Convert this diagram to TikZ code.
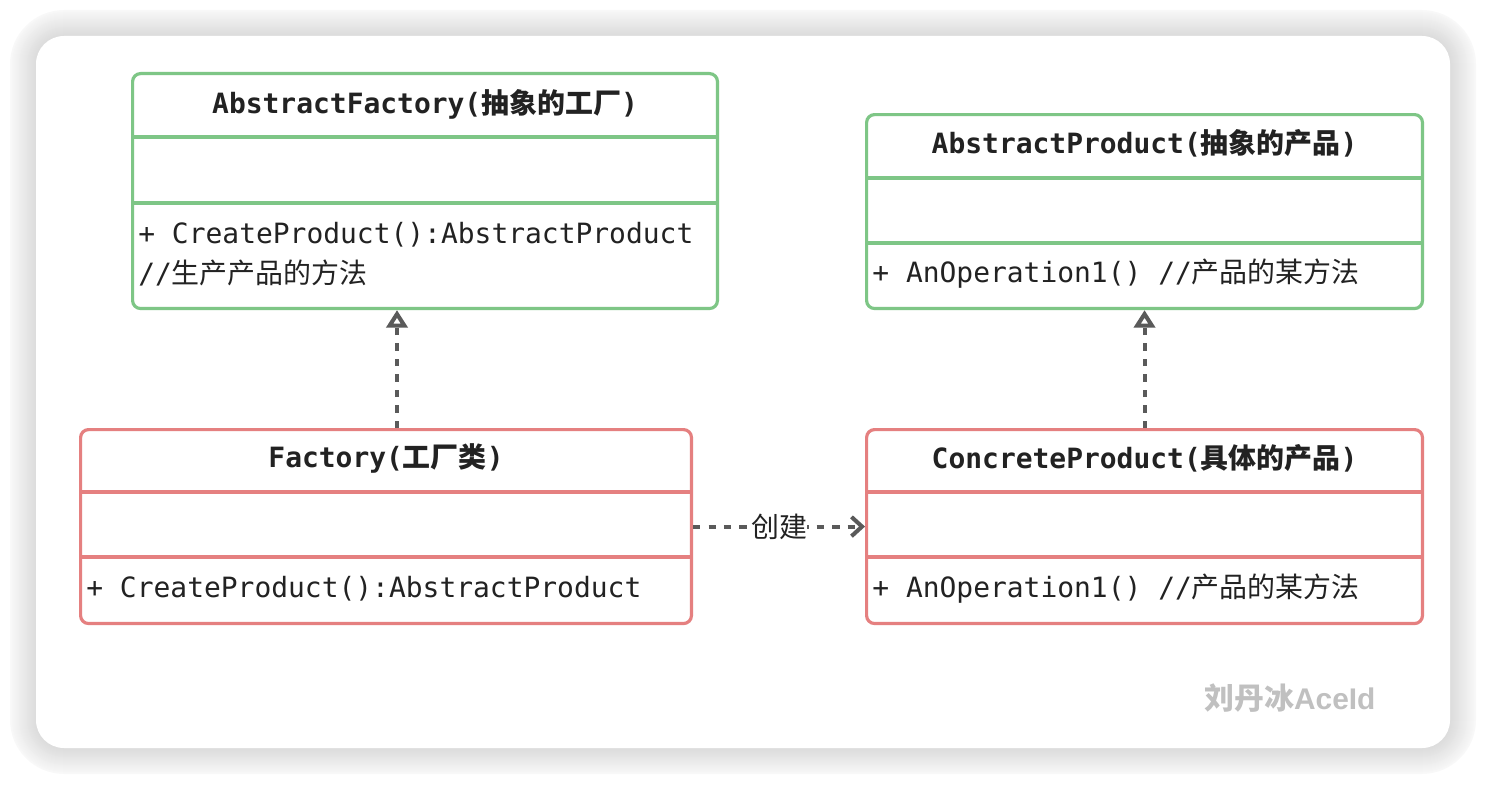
\documentclass[tikz,border=0pt]{standalone}
\usepackage{fontspec}
\setmonofont{DejaVu Sans Mono}
\newfontfamily\zhfont{Noto Sans CJK SC}
\newfontfamily\markfont{Liberation Sans}
\usetikzlibrary{arrows.meta,calc}
\definecolor{umlgreen}{RGB}{126,198,134}
\definecolor{umlred}{RGB}{229,128,128}
\definecolor{linkgray}{RGB}{90,90,90}
\definecolor{textdark}{RGB}{34,34,34}
\definecolor{markgray}{RGB}{192,192,192}
\newcommand{\zh}[1]{{\zhfont #1}}

\begin{document}
\begin{tikzpicture}[x=0.02cm,y=-0.02cm,
  abox/.style={draw=umlgreen,line width=1.8pt,rounded corners=0.16cm,anchor=north west,inner sep=0pt},
  cbox/.style={draw=umlred,line width=1.8pt,rounded corners=0.16cm,anchor=north west,inner sep=0pt},
  title/.style={font=\ttfamily\bfseries\fontsize{15.9}{20}\selectfont,text=textdark,inner sep=0pt},
  member/.style={font=\ttfamily\fontsize{15.9}{22.7}\selectfont,text=textdark,anchor=west,align=left,inner sep=0pt},
  realize/.style={draw=linkgray,line width=2.3pt,dash pattern=on 4.2pt off 4.6pt,-{Triangle[open,length=10pt,width=12pt]}},
  create/.style={draw=linkgray,line width=2.3pt,dash pattern=on 4.2pt off 4.6pt,-{Straight Barb[length=6pt,width=11pt]}}]
\useasboundingbox (0,0) rectangle (1486,784);

% card with soft shadow
\foreach \i in {26,...,1}{
  \pgfmathsetmacro\shade{2.5+11*(26-\i)/25}
  \pgfmathsetmacro\rad{0.56+0.02*\i}
  \fill[black!\shade,rounded corners=\rad cm] (36-\i,36-\i) rectangle (1450+\i,748+\i);
}
\fill[white,rounded corners=0.56cm] (36,36) rectangle (1450,748);

% abstract side
\node[abox,minimum width=11.7cm,minimum height=4.7cm] (af) at (131,72) {};
\draw[umlgreen,line width=1.8pt] ($(af.north west)+(0,65)$) -- ($(af.north east)+(0,65)$)
  ($(af.north west)+(0,131)$) -- ($(af.north east)+(0,131)$);
\node[title] (aft) at ($(af.north)+(0,32)$) {AbstractFactory(\zh{抽象的工厂})};
\node[member] (afm) at (138,254) {+ CreateProduct():AbstractProduct\\//\zh{生产产品的方法}};

\node[abox,minimum width=11.12cm,minimum height=3.88cm] (ap) at (865,113) {};
\draw[umlgreen,line width=1.8pt] ($(ap.north west)+(0,65)$) -- ($(ap.north east)+(0,65)$)
  ($(ap.north west)+(0,130)$) -- ($(ap.north east)+(0,130)$);
\node[title] (apt) at ($(ap.north)+(0,30)$) {AbstractProduct(\zh{抽象的产品})};
\node[member] (apm) at (872,274) {+ AnOperation1() //\zh{产品的某方法}};

% concrete side
\node[cbox,minimum width=12.22cm,minimum height=3.88cm] (f) at (79,428) {};
\draw[umlred,line width=1.8pt] ($(f.north west)+(0,64)$) -- ($(f.north east)+(0,64)$)
  ($(f.north west)+(0,129)$) -- ($(f.north east)+(0,129)$);
\node[title] (ft) at ($(f.north)+(0,30)$) {Factory(\zh{工厂类})};
\node[member] (fm) at (86,589) {+ CreateProduct():AbstractProduct};

\node[cbox,minimum width=11.12cm,minimum height=3.88cm] (cp) at (865,428) {};
\draw[umlred,line width=1.8pt] ($(cp.north west)+(0,64)$) -- ($(cp.north east)+(0,64)$)
  ($(cp.north west)+(0,129)$) -- ($(cp.north east)+(0,129)$);
\node[title] (cpt) at ($(cp.north)+(0,30)$) {ConcreteProduct(\zh{具体的产品})};
\node[member] (cpm) at (872,589) {+ AnOperation1() //\zh{产品的某方法}};

% links
\coordinate (fx) at (397,0);
\draw[realize] (fx |- f.north) -- (fx |- af.south);
\draw[realize] (cp.north) -- (ap.south);
\draw[create] (f.east) -- node[fill=white,inner xsep=0pt,inner ysep=2pt,text=textdark,
  font=\zhfont\fontsize{15.9}{18}\selectfont] (mk) {创建} (cp.west);

\node[text=markgray,font=\fontsize{17}{19}\selectfont] (wm) at (1290,698)
  {\zhfont\bfseries 刘丹冰\markfont\bfseries AceId};
\end{tikzpicture}
\end{document}
